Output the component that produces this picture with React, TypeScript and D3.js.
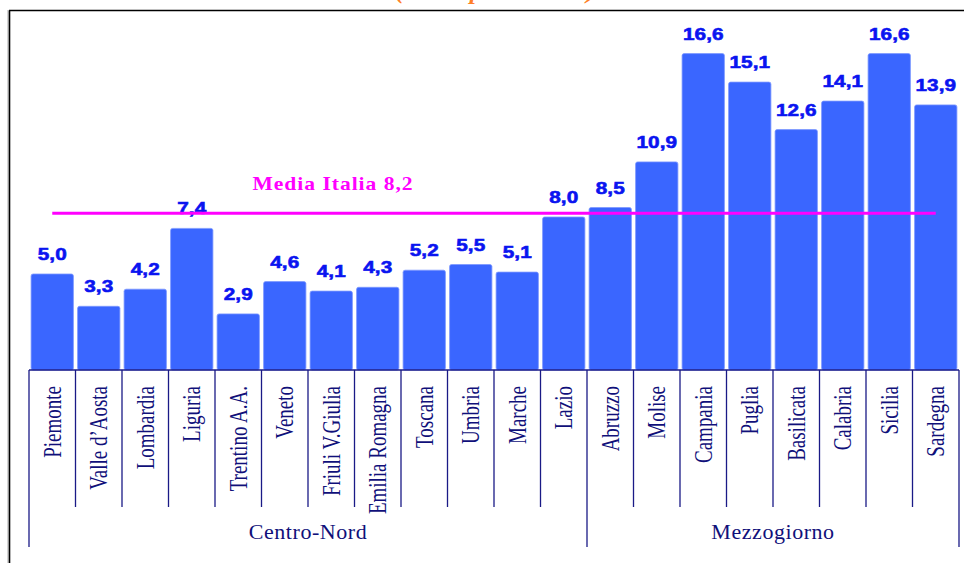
import React from "react";
import * as d3 from "d3";

const regions = [
  "Piemonte", "Valle d\u2019Aosta", "Lombardia", "Liguria", "Trentino A.A.", "Veneto",
  "Friuli V.Giulia", "Emilia Romagna", "Toscana", "Umbria", "Marche", "Lazio",
  "Abruzzo", "Molise", "Campania", "Puglia", "Basilicata", "Calabria", "Sicilia", "Sardegna",
];
const values = [5.0, 3.3, 4.2, 7.4, 2.9, 4.6, 4.1, 4.3, 5.2, 5.5, 5.1, 8.0, 8.5, 10.9, 16.6, 15.1, 12.6, 14.1, 16.6, 13.9];
const groups = [
  { name: "Centro-Nord", from: 0, to: 11 },
  { name: "Mezzogiorno", from: 12, to: 19 },
];
const mediaItalia = 8.2;
const mediaLabel = "Media Italia 8,2";
const titleText = "(valori percentuali)";

const fmt = (v: number) => v.toFixed(1).replace(".", ",");

export default function App() {
  const W = 964, H = 563;
  const x = d3.scaleBand<string>().domain(regions).range([29, 959]).paddingInner(0.09).paddingOuter(0.045);
  const y = d3.scaleLinear().domain([0, 17.5]).range([369, 369 - 17.5 * 19]);
  const step = x.step();
  const axisY = 370;
  const cellStart = (i: number) => 29 + i * step;
  const navy = "#1a1a86";
  const bw = x.bandwidth();
  const first = x(regions[0])! + bw / 2;
  const last = x(regions[regions.length - 1])! + bw / 2;

  return (
    <div style={{ position: "fixed", left: 0, top: 0, width: W, height: H, background: "#fff" }}>
      <svg width={W} height={H} style={{ display: "block" }}>
        <rect x={0} y={0} width={W} height={H} fill="#fff" />
        {/* cropped title */}
        <g transform="translate(495,-1) scale(1.25,1)">
          <text textAnchor="middle" fontFamily="Liberation Serif" fontWeight="bold" fontStyle="italic" fontSize={20} fill="#FF7F27">
            {titleText}
          </text>
        </g>
        {/* frame */}
        <line x1={8} y1={10} x2={8} y2={H} stroke="#aaa" strokeWidth={1} />
        <line x1={9.5} y1={10.5} x2={9.5} y2={H} stroke="#000" strokeWidth={1.6} />
        <line x1={9} y1={10.5} x2={W} y2={10.5} stroke="#000" strokeWidth={1.6} />

        {/* bars */}
        {regions.map((r, i) => (
          <rect key={r} x={x(r)} y={y(values[i])} width={bw} height={axisY - y(values[i])}
            fill="#3A66FF" stroke="#7C98FF" strokeWidth={0.8} rx={2} />
        ))}
        {/* value labels */}
        {regions.map((r, i) => (
          <g key={r + "v"} transform={`translate(${x(r)! + bw / 2},${y(values[i]) - 14}) scale(1.22,1)`}>
            <text textAnchor="middle" fontFamily="Liberation Sans" fontWeight="bold" fontSize={17} fill="#0A14F0"
              stroke="#0A14F0" strokeWidth={0.6}>
              {fmt(values[i])}
            </text>
          </g>
        ))}

        {/* average line */}
        <line x1={first} x2={last} y1={y(mediaItalia)} y2={y(mediaItalia)} stroke="#FF00FF" strokeWidth={3} />
        <g transform={`translate(333,${y(mediaItalia) - 23}) scale(1.2,1)`}>
          <text textAnchor="middle" fontFamily="Liberation Serif" fontWeight="bold" fontSize={18} letterSpacing={0.8} fill="#FF00FF">
            {mediaLabel}
          </text>
        </g>

        {/* axis */}
        <line x1={29} x2={959} y1={axisY} y2={axisY} stroke={navy} strokeWidth={1.5} />
        {d3.range(regions.length + 1).map((i) => {
          const long = i === 0 || i === regions.length || groups.some((g) => g.from === i);
          return (
            <line key={"s" + i} x1={cellStart(i)} x2={cellStart(i)} y1={axisY} y2={long ? 547 : 507}
              stroke={navy} strokeWidth={1.3} />
          );
        })}
        {regions.map((r, i) => (
          <g key={r + "l"} transform={`translate(${x(r)! + bw / 2},386) scale(1.3,1) rotate(-90)`}>
            <text textAnchor="end" dominantBaseline="central" fontFamily="Liberation Serif" fontSize={19} fill="#10107a">
              {r}
            </text>
          </g>
        ))}
        {groups.map((g) => (
          <g key={g.name} transform={`translate(${(cellStart(g.from) + cellStart(g.to + 1)) / 2},539) scale(1.1,1)`}>
            <text textAnchor="middle" fontFamily="Liberation Serif" fontSize={20} letterSpacing={0.5} fill="#10107a">
              {g.name}
            </text>
          </g>
        ))}
      </svg>
    </div>
  );
}
